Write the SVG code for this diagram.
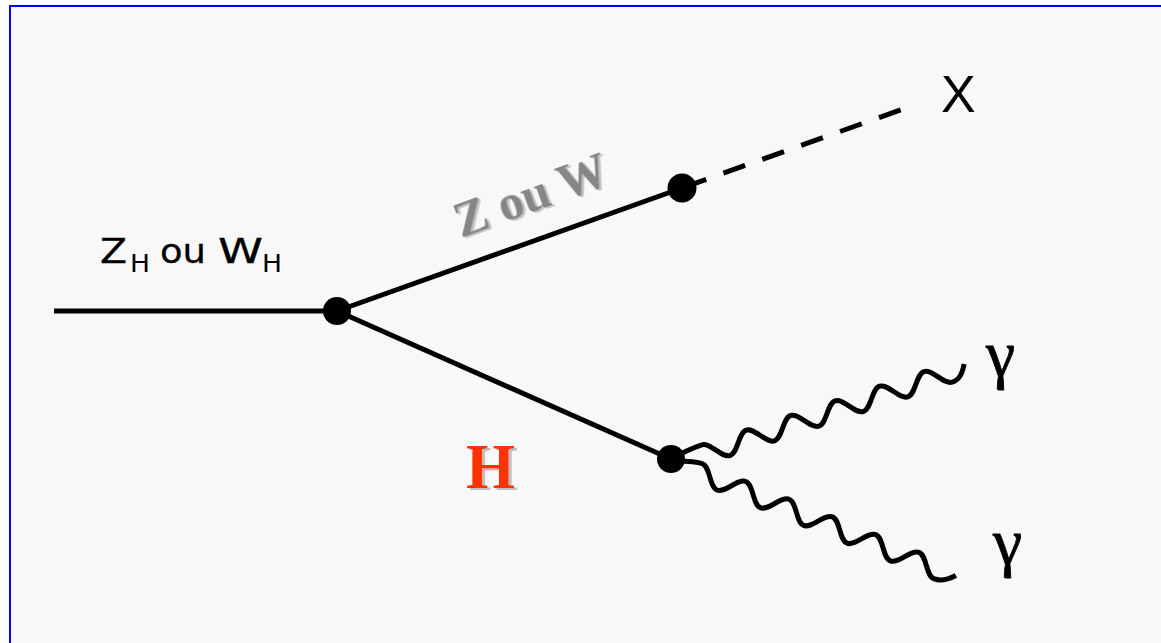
<svg xmlns="http://www.w3.org/2000/svg" width="1161" height="643" viewBox="0 0 1161 643">
<style>
.ln{fill:none;stroke:#000;stroke-width:5}
.ph{fill:none;stroke:#000;stroke-width:5;stroke-linecap:butt}
.dot{fill:#000}
.sans{font-family:"DejaVu Sans","Liberation Sans",sans-serif;fill:#000}
.serif{font-family:"Liberation Serif","Times New Roman",serif}
.greek{font-family:"Liberation Serif","Times New Roman",serif;fill:#000;stroke:#000;stroke-width:0.8}
</style>
<defs>
  <filter id="shadowGray" x="-10%" y="-10%" width="130%" height="140%">
    <feOffset in="SourceAlpha" dx="2" dy="2" result="o"/>
    <feFlood flood-color="#c4c4c4"/>
    <feComposite in2="o" operator="in" result="s"/>
    <feMerge><feMergeNode in="s"/><feMergeNode in="SourceGraphic"/></feMerge>
  </filter>
  <filter id="shadowH" x="-10%" y="-10%" width="130%" height="140%">
    <feOffset in="SourceAlpha" dx="3" dy="2" result="o"/>
    <feFlood flood-color="#c0c0c0"/>
    <feComposite in2="o" operator="in" result="s"/>
    <feMerge><feMergeNode in="s"/><feMergeNode in="SourceGraphic"/></feMerge>
  </filter>
</defs>
<rect x="0" y="0" width="1161" height="643" fill="#ffffff"/>
<rect x="10" y="6" width="1300" height="800" fill="#f8f8f8" stroke="#0000ff" stroke-width="2"/>
<g id="connectors">
  <line class="ln" x1="54" y1="311" x2="337" y2="311"/>
  <line class="ln" x1="337" y1="311" x2="682" y2="188"/>
  <line class="ln" x1="337" y1="311" x2="671" y2="459"/>
  <line class="ln" x1="682" y1="188" x2="903" y2="109" stroke-dasharray="23 18.3" stroke-dashoffset="38.6"/>
  <path class="ph" transform="translate(671,465) rotate(-18.26)" d="M2 -6 C14 -8 27 -9.5 35.6 -9.5 C44.1 -9.5 50.5 9.5 59 9.5 S73.9 -9.5 82.4 -9.5 S97.3 9.5 105.8 9.5 S120.7 -9.5 129.2 -9.5 S144.1 9.5 152.6 9.5 S167.5 -9.5 176 -9.5 S190.9 9.5 199.4 9.5 S214.3 -9.5 222.8 -9.5 S237.7 9.5 246.2 9.5 S261.1 -9.5 269.6 -9.5 S284.5 9.5 293 9.5 C301.5 9.5 306 3 310 -4"/>
  <path class="ph" transform="translate(671,461) rotate(22.26)" d="M0 0 C10 -4 22 -9.4 30.2 -9.4 C38.7 -9.4 45.1 9.4 53.6 9.4 S68.5 -9.4 77 -9.4 S91.9 9.4 100.4 9.4 S115.3 -9.4 123.8 -9.4 S138.7 9.4 147.2 9.4 S162.1 -9.4 170.6 -9.4 S185.5 9.4 194 9.4 S208.9 -9.4 217.4 -9.4 S232.3 9.4 240.8 9.4 S255.7 -9.4 264.2 -9.4 S279.1 9.4 287.6 9.4 C296.1 9.4 302 4 307 -2"/>
</g>
<g id="vertex-main"><circle class="dot" cx="337" cy="311" r="14"/></g>
<g id="vertex-upper"><circle class="dot" cx="682" cy="188" r="14.5"/></g>
<g id="vertex-lower"><circle class="dot" cx="671" cy="459" r="14"/></g>
<g id="label-zh-wh" class="sans">
  <text x="100" y="263" font-size="34" textLength="27" lengthAdjust="spacingAndGlyphs" stroke="#000" stroke-width="0.3">Z</text>
  <text x="130" y="272" font-size="25" textLength="20" lengthAdjust="spacingAndGlyphs">H</text>
  <text x="160" y="263" font-size="34" textLength="46" lengthAdjust="spacingAndGlyphs" stroke="#000" stroke-width="0.3">ou</text>
  <text x="218" y="263" font-size="34" textLength="45" lengthAdjust="spacingAndGlyphs" stroke="#000" stroke-width="0.3">W</text>
  <text x="262" y="272" font-size="25" textLength="20" lengthAdjust="spacingAndGlyphs">H</text>
</g>
<g id="label-z-ou-w" class="serif" font-weight="bold" font-size="50">
  <text transform="translate(461,238) rotate(-20)" fill="#868686" filter="url(#shadowGray)">Z ou W</text>
</g>
<g id="label-h" class="serif" font-weight="bold" font-size="63">
  <text x="466" y="488" fill="#ff3300" filter="url(#shadowH)">H</text>
</g>
<g id="label-x"><text x="941" y="112" font-size="52" style="font-family:'Liberation Sans',sans-serif" fill="#000">X</text></g>
<g id="label-gamma1"><text class="greek" x="986" y="376" font-size="66">γ</text></g>
<g id="label-gamma2"><text class="greek" x="993" y="564" font-size="66">γ</text></g>
</svg>
